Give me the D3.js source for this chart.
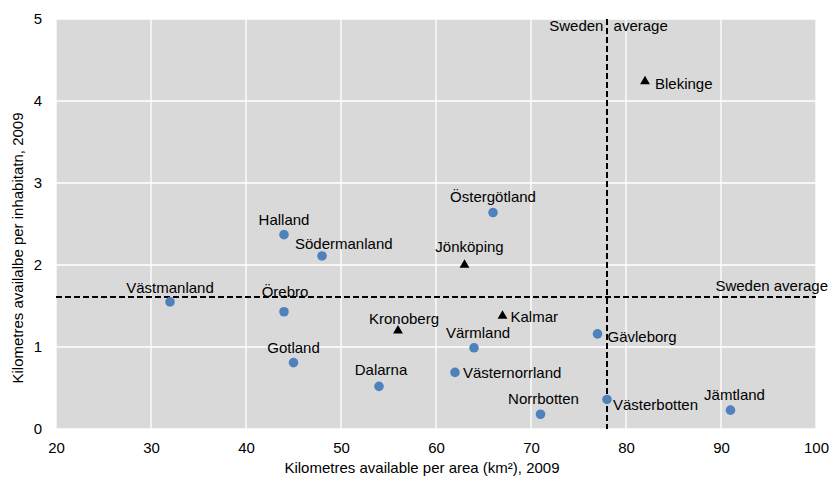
<!DOCTYPE html>
<html><head><meta charset="utf-8">
<script src="https://cdn.jsdelivr.net/npm/d3@7/dist/d3.min.js"></script>
<style>
html,body{margin:0;padding:0;background:#fff;}
text{font-family:"Liberation Sans",Arial,sans-serif;fill:#000;}
</style></head>
<body><svg id="c" width="831" height="479"></svg>
<script>
// Regions shown as circles
const circleNames = ["Västmanland","Örebro","Gotland","Dalarna","Södermanland","Halland","Östergötland","Värmland","Västernorrland","Norrbotten","Gävleborg","Västerbotten","Jämtland"];
const circleX = [32,44,45,54,48,44,66,64,62,71,77,78,91];
const circleY = [1.55,1.43,0.81,0.52,2.11,2.37,2.64,0.99,0.69,0.18,1.16,0.36,0.23];
// Regions shown as triangles
const triNames = ["Kronoberg","Jönköping","Kalmar","Blekinge"];
const triX = [56,63,67,82];
const triY = [1.2,2.0,1.38,4.24];
// Averages
const avgX = 78;
const avgY = 1.61;
const avgLabel = "Sweden average";
const xTicks = [20,30,40,50,60,70,80,90,100];
const yTicks = [0,1,2,3,4,5];
const xTitle = "Kilometres available per area (km²), 2009";
const yTitle = "Kilometres availalbe per inhabitatn, 2009";

// label placement (layout only): [anchor, dx, dy]
const labelLayout = {
  "Västmanland":["middle",0,-9], "Örebro":["middle",1,-15], "Gotland":["middle",0,-10],
  "Dalarna":["middle",2,-11], "Södermanland":["start",-27,-7], "Halland":["middle",0,-10],
  "Östergötland":["middle",0,-11], "Värmland":["middle",4,-10], "Västernorrland":["start",8,6],
  "Norrbotten":["middle",3,-10], "Gävleborg":["start",10,8], "Västerbotten":["start",6,11],
  "Jämtland":["middle",4,-10], "Kronoberg":["middle",6,-7], "Jönköping":["middle",5,-13],
  "Kalmar":["start",8,6], "Blekinge":["start",10,8]
};

const svg = d3.select("#c");
const L=56,R=816,T=19,B=429;
const x = d3.scaleLinear().domain([20,100]).range([L,R]);
const y = d3.scaleLinear().domain([0,5]).range([B,T]);

svg.append("rect").attr("x",L).attr("y",T).attr("width",R-L).attr("height",B-T).attr("fill","#d9d9d9");
const g = svg.append("g");
g.selectAll("line.vx").data(xTicks).join("line").attr("x1",d=>x(d)).attr("x2",d=>x(d)).attr("y1",T).attr("y2",B)
 .attr("stroke","#fff").attr("stroke-width",1.3);
g.selectAll("line.hy").data(yTicks).join("line").attr("x1",L).attr("x2",R).attr("y1",d=>y(d)).attr("y2",d=>y(d))
 .attr("stroke","#fff").attr("stroke-width",1.3);

// axes
const xa = svg.append("g").attr("transform",`translate(0,${B})`)
 .call(d3.axisBottom(x).tickValues(xTicks).tickFormat(d3.format("d")).tickSize(0).tickPadding(13));
xa.select(".domain").remove();
xa.selectAll("text").attr("font-size",15).attr("font-family","Liberation Sans, Arial");
const ya = svg.append("g").attr("transform",`translate(${L},0)`)
 .call(d3.axisLeft(y).tickValues(yTicks).tickFormat(d3.format("d")).tickSize(0).tickPadding(14));
ya.select(".domain").remove();
ya.selectAll("text").attr("font-size",15).attr("font-family","Liberation Sans, Arial");

// average lines
svg.append("line").attr("x1",x(avgX)).attr("x2",x(avgX)).attr("y1",T).attr("y2",B)
 .attr("stroke","#000").attr("stroke-width",2).attr("stroke-dasharray","6,3");
svg.append("line").attr("x1",L).attr("x2",R).attr("y1",y(avgY)).attr("y2",y(avgY))
 .attr("stroke","#000").attr("stroke-width",2).attr("stroke-dasharray","6,3");
svg.append("text").attr("x",608.5).attr("y",31).attr("text-anchor","middle").attr("font-size",15)
 .attr("word-spacing","6px").text(avgLabel);
svg.append("text").attr("x",828).attr("y",291).attr("text-anchor","end").attr("font-size",15)
 .text(avgLabel);

// markers
const cData = circleNames.map((n,i)=>({n,x:circleX[i],y:circleY[i]}));
svg.selectAll("circle.pt").data(cData).join("circle").attr("cx",d=>x(d.x)).attr("cy",d=>y(d.y)).attr("r",4.8).attr("fill","#4f81bd");
const tData = triNames.map((n,i)=>({n,x:triX[i],y:triY[i]}));
const tri = d3.symbol().type(d3.symbolTriangle).size(42);
svg.selectAll("path.tri").data(tData).join("path").attr("d",tri)
 .attr("transform",d=>`translate(${x(d.x)},${y(d.y)})`).attr("fill","#000");

const all = cData.concat(tData);
svg.selectAll("text.lbl").data(all).join("text")
 .attr("font-size",15)
 .attr("x",d=>x(d.x)+labelLayout[d.n][1])
 .attr("y",d=>y(d.y)+labelLayout[d.n][2])
 .attr("text-anchor",d=>labelLayout[d.n][0])
 .text(d=>d.n);

// titles
svg.append("text").attr("x",422).attr("y",473).attr("text-anchor","middle").attr("font-size",15)
 .text(xTitle);
svg.append("text").attr("transform","translate(23,248) rotate(-90)").attr("text-anchor","middle").attr("font-size",15)
 .text(yTitle);
</script></body></html>
